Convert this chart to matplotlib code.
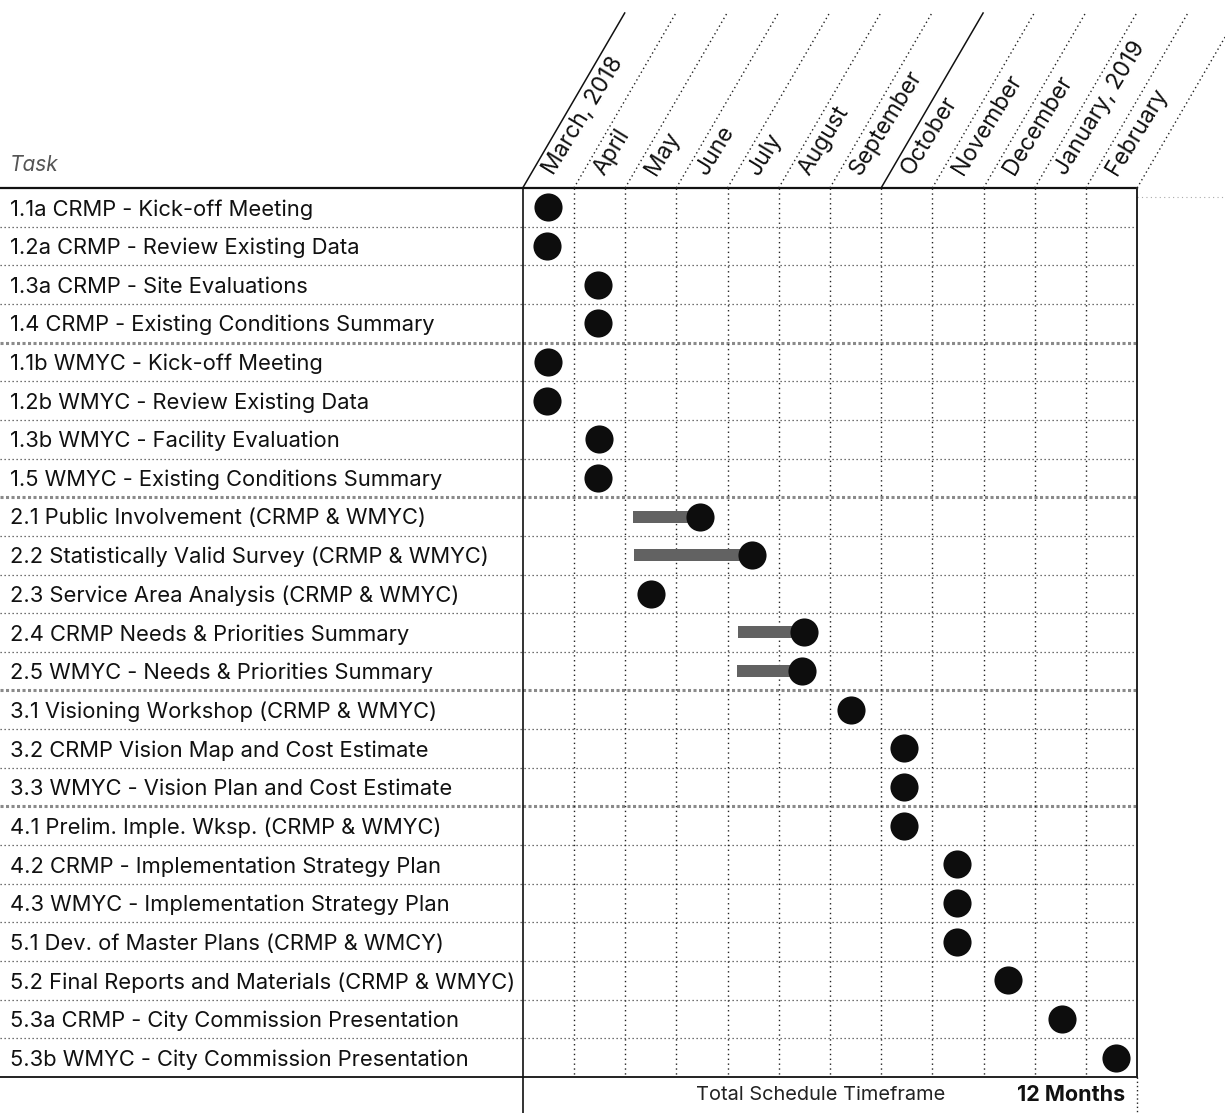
import matplotlib
matplotlib.use("Agg")
import matplotlib.pyplot as plt

# ---------------- data ----------------
months = ["March, 2018", "April", "May", "June", "July", "August", "September",
          "October", "November", "December", "January, 2019", "February"]

tasks = [
    "1.1a CRMP - Kick-off Meeting",
    "1.2a CRMP - Review Existing Data",
    "1.3a CRMP - Site Evaluations",
    "1.4 CRMP - Existing Conditions Summary",
    "1.1b WMYC - Kick-off Meeting",
    "1.2b WMYC - Review Existing Data",
    "1.3b WMYC - Facility Evaluation",
    "1.5 WMYC - Existing Conditions Summary",
    "2.1 Public Involvement (CRMP & WMYC)",
    "2.2 Statistically Valid Survey (CRMP & WMYC)",
    "2.3 Service Area Analysis (CRMP & WMYC)",
    "2.4 CRMP Needs & Priorities Summary",
    "2.5 WMYC - Needs & Priorities Summary",
    "3.1 Visioning Workshop (CRMP & WMYC)",
    "3.2 CRMP Vision Map and Cost Estimate",
    "3.3 WMYC - Vision Plan and Cost Estimate",
    "4.1 Prelim. Imple. Wksp. (CRMP & WMYC)",
    "4.2 CRMP - Implementation Strategy Plan",
    "4.3 WMYC - Implementation Strategy Plan",
    "5.1 Dev. of Master Plans (CRMP & WMCY)",
    "5.2 Final Reports and Materials (CRMP & WMYC)",
    "5.3a CRMP - City Commission Presentation",
    "5.3b WMYC - City Commission Presentation",
]

# milestone position (in months from start of March 2018)
milestone = [0.49, 0.47, 1.47, 1.47, 0.50, 0.47, 1.49, 1.47,
             3.46, 4.48, 2.50, 5.49, 5.45,
             6.42, 7.45, 7.45, 7.45,
             8.48, 8.48, 8.48, 9.48, 10.53, 11.59]

# duration bar start (None = no bar)
bar_start = [None] * 8 + [2.15, 2.18, None, 4.2, 4.18] + [None] * 10

group_breaks = [4, 8, 13, 16]          # heavy separators above these rows
solid_month_lines = [0, 7]             # solid slanted header lines

footer_label = "Total Schedule Timeframe"
footer_value = "12 Months"

# ---------------- layout ----------------
W, H = 1225, 1113
DPI = 100
X0_PX, COL_PX = 522.7, 51.2
Y0_PX, ROW_PX = 188.0, 38.65

plt.rcParams['font.family'] = ['Inter', 'DejaVu Sans']

fig = plt.figure(figsize=(W / DPI, H / DPI), dpi=DPI)
ax = fig.add_axes([0, 0, 1, 1])
ax.set_xlim(-X0_PX / COL_PX, (W - X0_PX) / COL_PX)
ax.set_ylim((H - Y0_PX) / ROW_PX, -Y0_PX / ROW_PX)
ax.axis('off')

n_rows = len(tasks)
n_cols = len(months)
xl = ax.get_xlim()[0]

# horizontal row separators
for r in range(1, n_rows):
    if r in group_breaks:
        ax.plot([xl, n_cols], [r, r], color='#8a8a8a', lw=2.2,
                linestyle=(0, (1, 0.8)), zorder=1)
    else:
        ax.plot([xl, n_cols], [r, r], color='#444444', lw=0.9,
                linestyle=(0, (1, 2.2)), zorder=1)

# top and bottom borders
ax.plot([xl, n_cols], [0, 0], color='#111111', lw=1.6, zorder=2)
ax.plot([xl, n_cols], [n_rows, n_rows], color='#222222', lw=1.4, zorder=2)
ax.plot([n_cols, ax.get_xlim()[1]], [0.23, 0.23], color='#aaaaaa', lw=0.8,
        linestyle=(0, (1, 3)), zorder=1)

# vertical lines
ybot = ax.get_ylim()[0]
ax.plot([0, 0], [0, ybot], color='#111111', lw=1.2, zorder=2)
for c in range(1, n_cols):
    ax.plot([c, c], [0, n_rows], color='#222222', lw=1.0,
            linestyle=(0, (1, 2.5)), zorder=1)
ax.plot([n_cols, n_cols], [0, n_rows], color='#222222', lw=1.4, zorder=2)
ax.plot([n_cols, n_cols], [n_rows, ybot], color='#222222', lw=1.0,
        linestyle=(0, (1, 2)), zorder=2)

# slanted header lines
top_row = (13 - Y0_PX) / ROW_PX
dx = 102 / COL_PX
for c in range(n_cols + 1):
    if c in solid_month_lines:
        ax.plot([c, c + dx], [0, top_row], color='#111111', lw=1.1, zorder=2)
    else:
        ax.plot([c, c + dx], [0, top_row], color='#222222', lw=1.0,
                linestyle=(0, (1, 2.2)), zorder=2)

# month labels
for c, m in enumerate(months):
    ax.text(c + 0.60, -0.30, m, rotation=58.5, rotation_mode='anchor',
            ha='left', va='baseline', fontsize=16.5, color='#111111')

# task header and labels
ax.text(10 / W, -0.6, "Task", transform=ax.get_yaxis_transform(),
        fontsize=15, style='italic', color='#555555', ha='left', va='center')
for r, t in enumerate(tasks):
    ax.text(10 / W, r + 0.55, t, transform=ax.get_yaxis_transform(),
            fontsize=15.8, color='#111111', ha='left', va='center')

# bars
for r, (s, e) in enumerate(zip(bar_start, milestone)):
    if s is not None:
        ax.barh(r + 0.5, e - s, left=s, height=12 / ROW_PX,
                color='#626262', zorder=3)

# milestones
ax.scatter(milestone, [r + 0.5 for r in range(n_rows)], s=410,
           color='#0d0d0d', zorder=4, linewidths=0)

# footer
fy = n_rows + 18 / ROW_PX
ax.text(945 / COL_PX - X0_PX / COL_PX, fy, footer_label, ha='right',
        va='center', fontsize=14.4, color='#222222')
ax.text(1125 / COL_PX - X0_PX / COL_PX, fy, footer_value, ha='right',
        va='center', fontsize=15.5, fontweight='bold', color='#111111')

fig.savefig("out.png", dpi=DPI)
